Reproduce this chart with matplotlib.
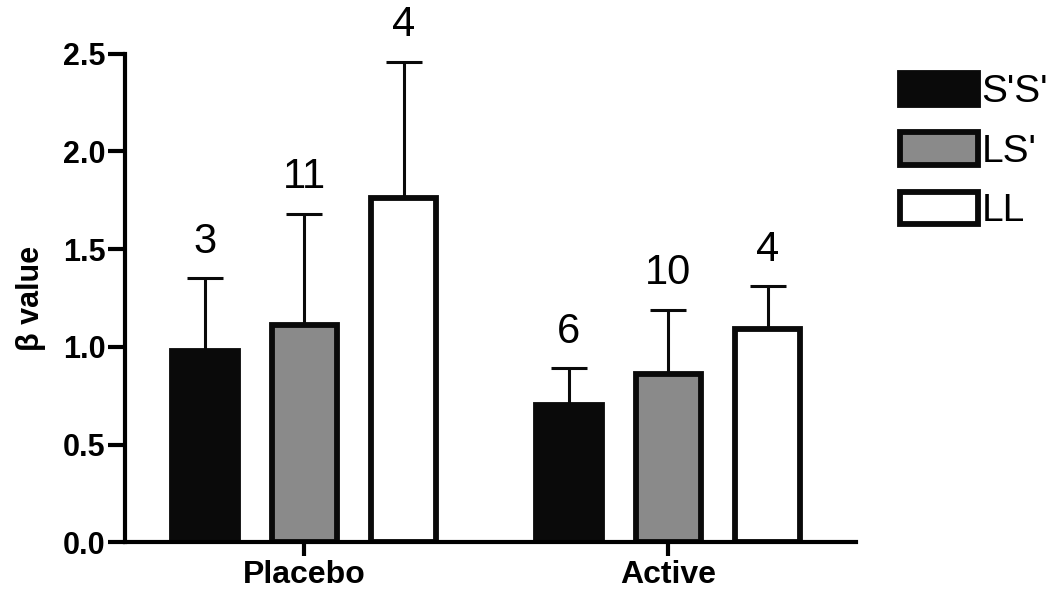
import numpy as np
import matplotlib
matplotlib.use("Agg")
import matplotlib.pyplot as plt

plt.rcParams['font.family'] = ['Liberation Sans', 'DejaVu Sans']

groups = ["Placebo", "Active"]
genotypes = ["S'S'", "LS'", "LL"]
means = {
    "S'S'": [0.98, 0.70],
    "LS'": [1.11, 0.86],
    "LL": [1.76, 1.09],
}
errs = {
    "S'S'": [0.37, 0.19],
    "LS'": [0.57, 0.33],
    "LL": [0.70, 0.22],
}
counts = {
    "S'S'": ["3", "6"],
    "LS'": ["11", "10"],
    "LL": ["4", "4"],
}
fills = {"S'S'": "#0a0a0a", "LS'": "#8a8a8a", "LL": "#ffffff"}

fig = plt.figure(figsize=(10.5, 5.9), dpi=100)
ax = fig.add_axes([0.119, 0.081, 0.696, 0.828])

x = np.arange(len(groups))
offset = 0.273
width = 0.18

for i, g in enumerate(genotypes):
    xs = x + (i - 1) * offset
    ax.bar(xs, means[g], width, color=fills[g], edgecolor="#0a0a0a",
           linewidth=4.2, label=g, zorder=2)
    top = np.array(means[g]) + np.array(errs[g])
    ax.errorbar(xs, means[g], yerr=[np.zeros(len(groups)), errs[g]],
                fmt="none", ecolor="#0a0a0a", elinewidth=2.2, capsize=13,
                capthick=2.2, zorder=1)
    for xi, t, c in zip(xs, top, counts[g]):
        ax.annotate(c, (xi, t), xytext=(0, 12), textcoords="offset points",
                    ha="center", va="bottom", fontsize=30)

ax.set_xlim(-0.493, 1.515)
ax.set_ylim(0, 2.5)
ax.set_yticks([0, 0.5, 1.0, 1.5, 2.0, 2.5])
ax.set_yticklabels(["0.0", "0.5", "1.0", "1.5", "2.0", "2.5"])
ax.set_xticks(x)
ax.set_xticklabels(groups, fontsize=23, fontweight="bold")
for lab in ax.get_yticklabels():
    lab.set_fontsize(22)
    lab.set_fontweight("bold")
ax.tick_params(axis="y", length=12, width=3, pad=2)
ax.tick_params(axis="x", length=10, width=3, pad=3)
ax.set_ylabel("β value", fontsize=22, fontweight="bold", labelpad=12)

for s in ["top", "right"]:
    ax.spines[s].set_visible(False)
for s in ["left", "bottom"]:
    ax.spines[s].set_linewidth(3)

fig.legend(loc="upper left", bbox_to_anchor=(0.857, 0.877), frameon=False,
           fontsize=28, handlelength=2.0, handleheight=0.92,
           labelspacing=0.56, handletextpad=0.1, borderpad=0, borderaxespad=0)

fig.savefig("out.png", dpi=100)
